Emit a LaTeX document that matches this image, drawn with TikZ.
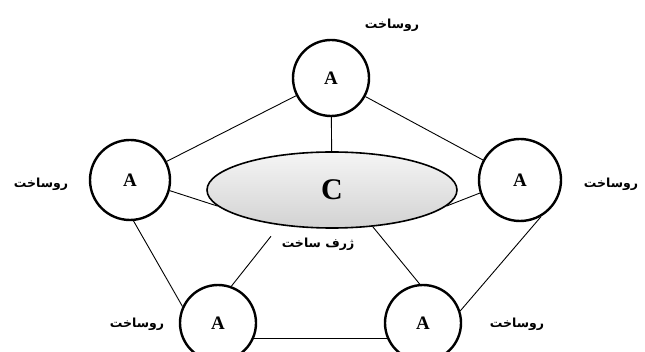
\documentclass[tikz,border=0pt]{standalone}
\usepackage{fontspec}
\setmainfont{Liberation Serif}
\newfontfamily\arabicfont[Script=Arabic]{DejaVu Sans}
\TeXXeTstate=1
\usetikzlibrary{shapes.geometric}
\begin{document}
\begin{tikzpicture}[x=1pt,y=-1pt,
  circ/.style={circle,draw,line width=2.4pt,minimum size=76pt,inner sep=0pt,font=\bfseries\fontsize{19}{19}\selectfont},
  lbl/.style={font=\arabicfont\bfseries\fontsize{12.5}{14}\selectfont,inner sep=0pt},
  conn/.style={line width=0.9pt}]
\useasboundingbox (0,0) rectangle (645,352);
\node[circ] (t) at (331,78) {A};
\node[circ,minimum size=80pt] (l) at (130,180) {A};
\node[circ,minimum size=82pt] (r) at (520,180) {A};
\node[circ] (bl) at (218,323) {A};
\node[circ] (br) at (423,323) {A};
\node[ellipse,draw,line width=1.6pt,minimum width=250pt,minimum height=76pt,
  top color=gray!8,bottom color=gray!35,inner sep=0pt,
  font=\bfseries\fontsize{30}{30}\selectfont] (c) at (332,190) {C};
\node[lbl] (lt) at (392,25) {\beginR روساخت\endR};
\node[lbl] (ll) at (41,184) {\beginR روساخت\endR};
\node[lbl] (lr) at (611,184) {\beginR روساخت\endR};
\node[lbl] (lbl1) at (137,324) {\beginR روساخت\endR};
\node[lbl] (lbr) at (517,324) {\beginR روساخت\endR};
\node[lbl] (lc) at (318,244) {\beginR ژرف ساخت\endR};
\draw[conn] (t) -- (l);
\draw[conn] (t) -- (r);
\draw[conn] (t) -- (c);
\draw[conn] (l.-15) -- (c.188);
\draw[conn] (r.198) -- (c.-8);
\draw[conn] (l.-85) -- (bl.155);
\draw[conn] (r.-60) -- (br.18);
\draw[conn] (bl.-23) -- (br.203);
\draw[conn,shorten <=14pt] (c.214) -- (bl.70);
\draw[conn] (c.-42) -- (br.95);
\end{tikzpicture}
\end{document}
